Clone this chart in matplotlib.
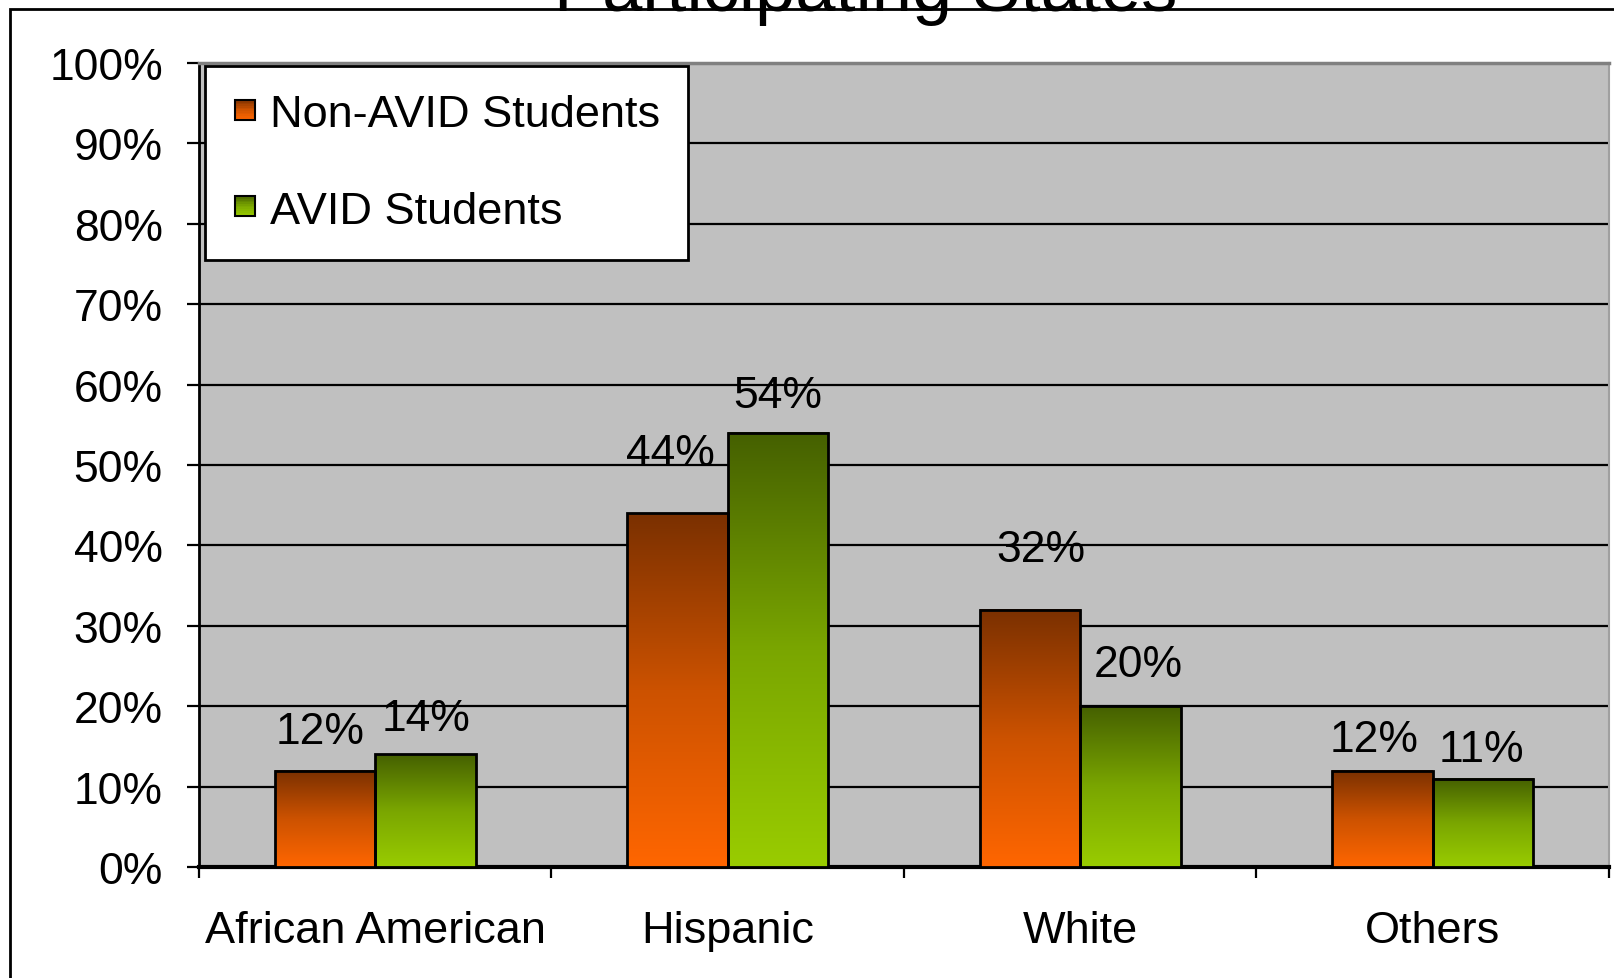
import numpy as np
import matplotlib
matplotlib.use("Agg")
import matplotlib.pyplot as plt
from matplotlib.patches import Rectangle
from matplotlib.legend_handler import HandlerBase
from matplotlib.colors import LinearSegmentedColormap

plt.rcParams['font.family'] = ['Liberation Sans', 'DejaVu Sans']

# ---- data ----
categories = ["African American", "Hispanic", "White", "Others"]
series_names = ["Non-AVID Students", "AVID Students"]
non_avid = [12, 44, 32, 12]
avid = [14, 54, 20, 11]
yticks = [0, 10, 20, 30, 40, 50, 60, 70, 80, 90, 100]
title = "Participating States"

# ---- styles ----
grad_colors = [("#FF6600", "#CC5200", "#7A3000"), ("#99CC00", "#7AA600", "#456000")]
# label offsets in pixels (x, y) relative to bar top centre
label_offsets = [
    [(-5, 39), (-7, 60), (11, 60), (-8, 31)],
    [(1, 36), (0, 37), (8, 42), (-2, 29)],
]
W, H = 1615, 979
fig = plt.figure(figsize=(W / 100, H / 100), dpi=100)
ax = fig.add_axes([199 / W, 1 - 868 / H, (1609 - 199) / W, (868 - 64) / H])
ax.set_facecolor("#C0C0C0")

cmaps = [LinearSegmentedColormap.from_list("c%d" % i, list(c)) for i, c in enumerate(grad_colors)]
grad = np.linspace(1, 0, 256).reshape(-1, 1)

x = np.arange(len(categories))
bw = 0.285
all_vals = [non_avid, avid]
for s, vals in enumerate(all_vals):
    pos = x - bw / 2 if s == 0 else x + bw / 2
    bars = ax.bar(pos, vals, bw, facecolor="none", edgecolor="black", linewidth=2, zorder=4)
    for i, r in enumerate(bars):
        x0, w, h = r.get_x(), r.get_width(), r.get_height()
        ax.imshow(grad, extent=[x0, x0 + w, 0, h], aspect="auto", cmap=cmaps[s],
                  zorder=3, interpolation="bilinear", origin="upper")
        dx, dy = label_offsets[s][i]
        ax.annotate(f"{vals[i]}%", (x0 + w / 2, h), xytext=(dx, dy), textcoords="offset pixels",
                    ha="center", va="center", fontsize=32, color="black", zorder=5)

ax.set_xlim(-0.5, len(categories) - 0.5)
ax.set_ylim(0, 100)
ax.set_yticks(yticks)
ax.set_yticklabels([f"{v}%" for v in yticks])
ax.yaxis.grid(True, color="black", linewidth=1.6, zorder=1)
ax.set_axisbelow(True)
ax.tick_params(axis="y", direction="out", length=9, width=1.6, pad=17, labelsize=32)
ax.set_xticks(x)
ax.set_xticklabels(categories)
ax.set_xticks(np.arange(-0.5, len(categories), 1.0), minor=True)
ax.tick_params(axis="x", which="major", length=0, pad=31, labelsize=32.5)
ax.tick_params(axis="x", which="minor", direction="out", length=8, width=1.6)

ax.spines["left"].set_linewidth(2)
ax.spines["bottom"].set_linewidth(3)
ax.spines["top"].set_color("#808080")
ax.spines["top"].set_linewidth(2.5)
ax.spines["right"].set_color("#A0A0A0")
ax.spines["right"].set_linewidth(1.5)


class GradHandler(HandlerBase):
    def __init__(self, cmap):
        super().__init__()
        self.cmap = cmap

    def create_artists(self, legend, orig_handle, xdescent, ydescent, width, height, fontsize, trans):
        side = 14.5
        x0 = width - side
        y0 = height / 2 - side / 2 + 0.5
        arts = []
        n = 12
        for k in range(n):
            c = self.cmap(1 - (k + 0.5) / n)
            arts.append(Rectangle((x0, y0 + side - (k + 1) * side / n), side, side / n + 0.3,
                                  facecolor=c, edgecolor="none", transform=trans))
        arts.append(Rectangle((x0, y0), side, side, facecolor="none", edgecolor="black",
                              linewidth=1.5, transform=trans))
        return arts


handles = [Rectangle((0, 0), 1, 1) for _ in series_names]
leg = ax.legend(handles, series_names, loc="upper left", bbox_to_anchor=(0.004, 0.996),
                borderaxespad=0, fontsize=32.5, frameon=True, fancybox=False, shadow=False,
                handlelength=0.5, handletextpad=0.32, labelspacing=1.23, borderpad=0.62,
                handler_map={handles[0]: GradHandler(cmaps[0]), handles[1]: GradHandler(cmaps[1])})
leg.get_frame().set_edgecolor("black")
leg.get_frame().set_linewidth(2)
leg.get_frame().set_alpha(1)
leg.set_zorder(6)

# figure border
fig.patches.append(Rectangle((10 / W, -0.2), 1.2, 1.2 - 10 / H, transform=fig.transFigure,
                             fill=False, edgecolor="black", linewidth=2, clip_on=False))
fig.text(0.536, 1 - 11 / H, title, ha="center", va="baseline", fontsize=52)

fig.savefig("out.png", dpi=100)
